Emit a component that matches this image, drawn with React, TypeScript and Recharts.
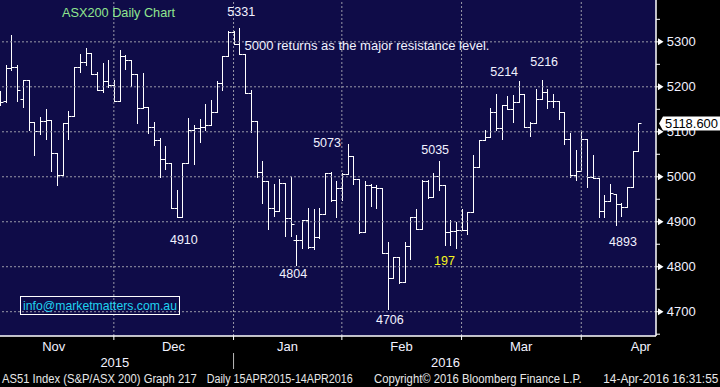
import React from 'react'
import {
  ComposedChart,
  Bar,
  XAxis,
  YAxis,
  CartesianGrid,
  ReferenceLine,
  ReferenceDot,
} from 'recharts'

// trading days shown on the chart (Nov 2015 - 14 Apr 2016)
const nov15 = [2, 3, 4, 5, 6, 9, 10, 11, 12, 13, 16, 17, 18, 19, 20, 23, 24, 25, 26, 27, 30]
const dec15 = [1, 2, 3, 4, 7, 8, 9, 10, 11, 14, 15, 16, 17, 18, 21, 22, 23, 24, 29, 30, 31]
const jan16 = [4, 5, 6, 7, 8, 11, 12, 13, 14, 15, 18, 19, 20, 21, 22, 25, 27, 28, 29]
const feb16 = [1, 2, 3, 4, 5, 8, 9, 10, 11, 12, 15, 16, 17, 18, 19, 22, 23, 24, 25, 26, 29]
const mar16 = [1, 2, 3, 4, 7, 8, 9, 10, 11, 14, 15, 16, 17, 18, 21, 22, 23, 24, 29, 30, 31]
const apr16 = [1, 4, 5, 6, 7, 8, 11, 12, 13, 14]

const days = (y: number, m: string, list: number[]) =>
  list.map((d) => `${y}-${m}-${String(d).padStart(2, '0')}`)

const dates = [
  ...days(2015, '11', nov15),
  ...days(2015, '12', dec15),
  ...days(2016, '01', jan16),
  ...days(2016, '02', feb16),
  ...days(2016, '03', mar16),
  ...days(2016, '04', apr16),
]

const open = [
  5180, 5168, 5241, 5243, 5172, 5216, 5121, 5101, 5124, 5126,
  5052, 5005, 5119, 5134, 5243, 5256, 5276, 5228, 5194, 5212,
  5203, 5168, 5268, 5259, 5228, 5152, 5156, 5110, 5082, 5039,
  5030, 4930, 4910, 5030, 5104, 5108, 5111, 5116, 5143, 5208,
  5268, 5322, 5296, 5272, 5187, 5124, 5011, 4991, 4931, 4924,
  4987, 4909, 4859, 4859, 4904, 4843, 4867, 4917, 5009, 4948,
  4976, 5006, 5046, 4994, 4878, 4982, 4978, 4976, 4831, 4776,
  4821, 4765, 4845, 4910, 4883, 4991, 4954, 5002, 4982, 4877,
  4880, 4882, 4882, 4922, 5021, 5082, 5089, 5143, 5109, 5159,
  5150, 5167, 5185, 5111, 5119, 5172, 5188, 5168, 5168, 5143,
  5085, 5005, 5013, 5084, 5000, 4998, 4924, 4947, 4961, 4939,
  4933, 4978, 5057,
]
const high = [
  5190, 5248, 5316, 5248, 5216, 5216, 5121, 5133, 5150, 5126,
  5052, 5119, 5146, 5243, 5273, 5286, 5276, 5232, 5254, 5259,
  5215, 5282, 5270, 5259, 5228, 5230, 5156, 5122, 5086, 5068,
  5030, 4970, 5030, 5130, 5115, 5128, 5162, 5170, 5212, 5268,
  5324, 5324, 5331, 5272, 5192, 5124, 5034, 4991, 4985, 4994,
  4987, 4999, 4870, 4904, 4931, 4929, 4931, 5009, 5010, 4990,
  5009, 5073, 5046, 4994, 4990, 4985, 4982, 4976, 4854, 4821,
  4821, 4854, 4910, 4928, 4993, 4993, 5008, 5035, 4982, 4904,
  4900, 4928, 4922, 5048, 5082, 5105, 5152, 5184, 5159, 5180,
  5182, 5214, 5185, 5122, 5196, 5216, 5196, 5184, 5168, 5143,
  5098, 5059, 5100, 5084, 5048, 4998, 4959, 4985, 4961, 4942,
  4978, 5057, 5118.6,
]
const low = [
  5160, 5167, 5237, 5169, 5156, 5105, 5049, 5096, 5084, 5013,
  4982, 5005, 5084, 5134, 5233, 5248, 5228, 5194, 5189, 5199,
  5168, 5168, 5240, 5202, 5120, 5152, 5098, 5071, 4999, 5018,
  4930, 4910, 4910, 5030, 5028, 5078, 5104, 5116, 5143, 5193,
  5268, 5296, 5272, 5187, 5099, 5000, 4942, 4883, 4913, 4924,
  4868, 4868, 4804, 4841, 4841, 4840, 4863, 4917, 4947, 4911,
  4948, 5006, 4985, 4876, 4878, 4935, 4930, 4831, 4706, 4774,
  4763, 4765, 4817, 4883, 4883, 4952, 4954, 4970, 4848, 4848,
  4841, 4882, 4873, 4922, 5021, 5082, 5089, 5104, 5085, 5150,
  5121, 5167, 5111, 5091, 5119, 5172, 5152, 5156, 5128, 5072,
  5000, 4993, 5013, 4978, 4997, 4911, 4910, 4947, 4893, 4913,
  4932, 4978, 5057,
]
const close = [
  5166, 5241, 5243, 5194, 5216, 5121, 5101, 5124, 5126, 5052,
  5005, 5119, 5134, 5243, 5256, 5276, 5228, 5194, 5212, 5203,
  5168, 5268, 5259, 5228, 5152, 5156, 5110, 5082, 5039, 5030,
  4930, 4910, 5030, 5104, 5108, 5111, 5116, 5143, 5208, 5268,
  5322, 5296, 5272, 5187, 5124, 5011, 4991, 4931, 4924, 4987,
  4909, 4895, 4859, 4904, 4843, 4867, 4917, 5009, 4948, 4976,
  5006, 5046, 4994, 4878, 4982, 4978, 4976, 4831, 4776, 4821,
  4765, 4845, 4910, 4883, 4991, 4954, 5002, 4982, 4877, 4880,
  4882, 4882, 4922, 5021, 5082, 5089, 5143, 5109, 5159, 5150,
  5167, 5185, 5111, 5119, 5172, 5188, 5168, 5168, 5143, 5085,
  5005, 5013, 5084, 5000, 4998, 4924, 4947, 4965, 4939, 4933,
  4978, 5057, 5118.6,
]

const lastPrice = 5118.6
const gridValues = [4700, 4800, 4900, 5000, 5100, 5200, 5300]
const minorValues = [4650, 4750, 4850, 4950, 5050, 5150, 5250, 5350]
const monthEnds = ['2015-11-30', '2015-12-31', '2016-01-29', '2016-02-29', '2016-03-31']
const monthLabelDates = ['2015-11-13', '2015-12-14', '2016-01-14', '2016-02-12', '2016-03-14', '2016-04-14']
const monthNames: Record<string, string> = { '11': 'Nov', '12': 'Dec', '01': 'Jan', '02': 'Feb', '03': 'Mar', '04': 'Apr' }
const yearLabelDates = ['2015-11-30', '2016-02-24']
const yearNames = ['2015', '2016']
const yearSplit = '2015-12-31'

const rows = dates.map((date, i) => ({
  date,
  open: open[i],
  high: high[i],
  low: low[i],
  close: close[i],
  range: [low[i], high[i]],
}))

const FONT = '"Liberation Sans", Arial, sans-serif'
const NAVY = '#0f0c48'
const GRID = '#9a9aa8'
const TEXT = '#f2f2ff'

const snap = (v: number) => Math.round(v) + 0.5

const OhlcBar = (props: any) => {
  const { x, y, width, height, payload } = props
  if (!payload) return null
  const cx = snap(x + width / 2)
  const top = Math.min(y, y + height)
  const bottom = Math.max(y, y + height)
  const span = payload.high - payload.low
  const at = (v: number) => snap(span ? top + ((payload.high - v) / span) * (bottom - top) : top)
  return (
    <g stroke="#fff" strokeWidth={1}>
      <line x1={cx} x2={cx} y1={Math.round(top)} y2={Math.round(bottom) + 1} />
      <line x1={cx - 3} x2={cx} y1={at(payload.open)} y2={at(payload.open)} />
      <line x1={cx} x2={cx + 3} y1={at(payload.close)} y2={at(payload.close)} />
    </g>
  )
}

const XTick = (props: any) => {
  const { x, y, payload } = props
  const d: string = payload.value
  const out: any[] = []
  if (monthEnds.includes(d)) {
    out.push(<line key="t" x1={x} x2={x} y1={y} y2={y + 4} stroke="#fff" />)
  }
  if (monthLabelDates.includes(d)) {
    out.push(
      <text key="m" x={x + 2.6} y={y + 10} textAnchor="middle" dominantBaseline="central" fill={TEXT} fontSize={13}>
        {monthNames[d.slice(5, 7)]}
      </text>
    )
  }
  const yi = yearLabelDates.indexOf(d)
  if (yi >= 0) {
    out.push(
      <text key="y" x={x + 1} y={y + 26} textAnchor="middle" dominantBaseline="central" fill={TEXT} fontSize={13}>
        {yearNames[yi]}
      </text>
    )
  }
  if (d === yearSplit) {
    out.push(<line key="s" x1={x} x2={x} y1={y + 17} y2={y + 33} stroke="#bbbbbb" />)
  }
  return <g>{out}</g>
}

const YTick = (props: any) => {
  const { x, y, payload } = props
  const v = payload.value
  if (v === lastPrice) {
    return (
      <g>
        <polygon
          points={`${x + 3},${y} ${x + 7},${y - 7} ${x + 64},${y - 7} ${x + 64},${y + 7} ${x + 7},${y + 7}`}
          fill="#fff"
        />
        <text x={x + 9} y={y} dominantBaseline="central" fill="#000" fontSize={13} textLength={53} lengthAdjust="spacingAndGlyphs">
          {lastPrice.toFixed(3)}
        </text>
      </g>
    )
  }
  if (v % 100 === 0) {
    return (
      <g>
        <line x1={x} x2={x + 3} y1={y} y2={y} stroke="#fff" />
        <polygon points={`${x + 2},${y - 3.5} ${x + 7.5},${y} ${x + 2},${y + 3.5}`} fill="#fff" />
        <text x={x + 10.7} y={y} dominantBaseline="central" fill={TEXT} fontSize={13}>
          {v}
        </text>
      </g>
    )
  }
  return <line x1={x} x2={x + 4} y1={y} y2={y} stroke="#fff" />
}

const Note = (props: any) => {
  const { viewBox, text, dx = 0, dy = 0, color = TEXT, anchor = 'middle', size = 12.5 } = props
  if (!viewBox) return null
  return (
    <text
      x={viewBox.x + dx}
      y={viewBox.y + dy}
      fill={color}
      textAnchor={anchor}
      dominantBaseline="central"
      fontSize={size}
      fontFamily={FONT}
    >
      {text}
    </text>
  )
}

export default function App() {
  return (
    <div
      style={{
        position: 'fixed',
        left: 0,
        top: 0,
        width: 720,
        height: 387,
        background: '#000',
        overflow: 'hidden',
        fontFamily: FONT,
      }}
    >
      <div style={{ position: 'absolute', left: -3, top: 0 }}>
        <ComposedChart
          width={723}
          height={387}
          data={rows}
          margin={{ top: 0, right: 0, bottom: 0, left: 0 }}
          barCategoryGap={0}
        >
          <CartesianGrid horizontal={false} vertical={false} fill={NAVY} stroke="none" />
          {gridValues.map((v) => (
            <ReferenceLine key={`h${v}`} y={v} stroke={GRID} strokeDasharray="2 2" />
          ))}
          {monthEnds.map((d) => (
            <ReferenceLine key={`v${d}`} x={d} stroke={GRID} strokeDasharray="2 2" />
          ))}
          <XAxis
            dataKey="date"
            type="category"
            height={51}
            padding={{ left: 0, right: 14.9 }}
            ticks={[...monthEnds, ...monthLabelDates, yearLabelDates[1]]}
            interval={0}
            tick={<XTick />}
            tickLine={false}
            tickSize={0}
            tickMargin={0}
            axisLine={{ stroke: '#fff', strokeWidth: 1.5 }}
          />
          <YAxis
            orientation="right"
            type="number"
            width={64}
            domain={[4646, 5393]}
            allowDataOverflow
            ticks={[...minorValues, ...gridValues, lastPrice]}
            interval={0}
            tick={<YTick />}
            tickLine={false}
            tickSize={0}
            tickMargin={0}
            axisLine={{ stroke: '#fff', strokeWidth: 1.5 }}
          />
          <Bar dataKey="range" shape={<OhlcBar />} isAnimationActive={false} />
          <ReferenceDot x={dates[42]} y={high[42]} r={0} stroke="none" label={<Note text="5331" dx={2} dy={-15.7} />} />
          <ReferenceDot x={dates[31]} y={low[31]} r={0} stroke="none" label={<Note text="4910" dx={7.3} dy={22.8} />} />
          <ReferenceDot x={dates[61]} y={high[61]} r={0} stroke="none" label={<Note text="5073" dx={-20.5} dy={-1} />} />
          <ReferenceDot x={dates[77]} y={high[77]} r={0} stroke="none" label={<Note text="5035" dx={-3.6} dy={-11} />} />
          <ReferenceDot x={dates[52]} y={low[52]} r={0} stroke="none" label={<Note text="4804" dx={-3} dy={9.4} />} />
          <ReferenceDot x={dates[68]} y={low[68]} r={0} stroke="none" label={<Note text="4706" dx={2.4} dy={11} />} />
          <ReferenceDot x={dates[78]} y={low[78]} r={0} stroke="none" label={<Note text="197" dx={0} dy={16} color="#f5f51e" />} />
          <ReferenceDot x={dates[91]} y={high[91]} r={0} stroke="none" label={<Note text="5214" dx={-14.4} dy={-8.7} />} />
          <ReferenceDot x={dates[95]} y={high[95]} r={0} stroke="none" label={<Note text="5216" dx={2.8} dy={-17.2} />} />
          <ReferenceDot x={dates[108]} y={low[108]} r={0} stroke="none" label={<Note text="4893" dx={7.5} dy={17.5} />} />
          <ReferenceDot
            x={dates[43]}
            y={5300}
            r={0}
            stroke="none"
            label={<Note text="5000 returns as the major resistance level." dx={-0.5} dy={3.6} anchor="start" size={13} />}
          />
        </ComposedChart>
      </div>
      <svg width={720} height={387} style={{ position: 'absolute', left: 0, top: 0, pointerEvents: 'none' }}>
        <text x={62} y={12} fill="#8fe68f" fontSize={13} dominantBaseline="central" textLength={113} lengthAdjust="spacingAndGlyphs">
          ASX200 Daily Chart
        </text>
        <rect x={20.5} y={296.5} width={159} height={18} fill="none" stroke="#fff" />
        <text x={23} y={305.5} fill="#1fd2f0" fontSize={13} dominantBaseline="central" textLength={154} lengthAdjust="spacingAndGlyphs">
          info@marketmatters.com.au
        </text>
        <g fill="#e8e8e8" fontSize={12}>
          <text x={2} y={379.3} dominantBaseline="central" textLength={194.7} lengthAdjust="spacingAndGlyphs">
            AS51 Index (S&amp;P/ASX 200) Graph 217
          </text>
          <text x={206.7} y={379.3} dominantBaseline="central" textLength={146} lengthAdjust="spacingAndGlyphs">
            Daily 15APR2015-14APR2016
          </text>
          <text x={374} y={379.3} dominantBaseline="central" textLength={207.7} lengthAdjust="spacingAndGlyphs">
            Copyright© 2016 Bloomberg Finance L.P.
          </text>
          <text x={603.3} y={379.3} dominantBaseline="central" textLength={115} lengthAdjust="spacingAndGlyphs">
            14-Apr-2016 16:31:55
          </text>
        </g>
      </svg>
    </div>
  )
}
